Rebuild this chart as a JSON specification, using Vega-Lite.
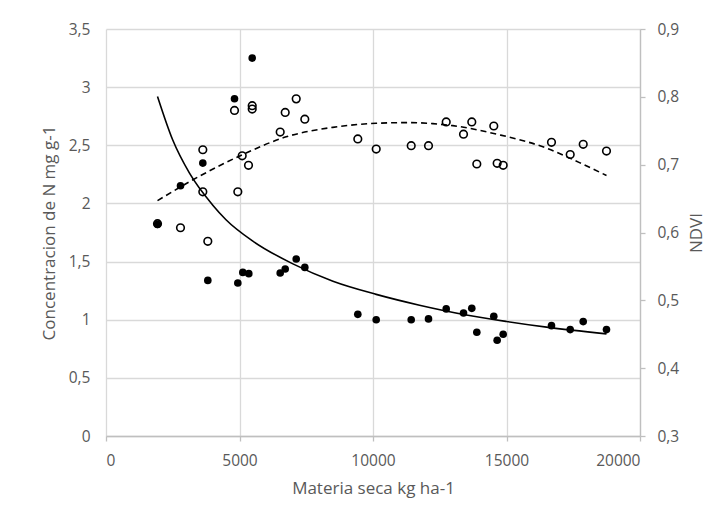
{
  "$schema": "https://vega.github.io/schema/vega-lite/v6.json",
  "width": 534,
  "height": 407,
  "autosize": {"type": "none"},
  "padding": {"left": 106, "top": 29, "right": 86, "bottom": 91},
  "background": "white",
  "config": {
    "view": {"stroke": null},
    "font": "Open Sans",
    "axis": {
      "labelFont": "Open Sans",
      "titleFont": "Open Sans",
      "labelColor": "#595959",
      "titleColor": "#595959",
      "labelFontSize": 15.5,
      "titleFontSize": 17,
      "titleFontWeight": "normal",
      "gridColor": "#d9d9d9",
      "gridWidth": 1.3,
      "domainColor": "#bfbfbf",
      "domainWidth": 1.3,
      "tickColor": "#bfbfbf",
      "tickWidth": 1.3
    }
  },
  "datasets": {
    "nData": [
      {"ms": 1929, "n": 1.82},
      {"ms": 2790, "n": 2.152},
      {"ms": 3626, "n": 2.347},
      {"ms": 3813, "n": 1.338},
      {"ms": 4813, "n": 2.9},
      {"ms": 4937, "n": 1.316},
      {"ms": 5124, "n": 1.407},
      {"ms": 5348, "n": 1.396},
      {"ms": 5476, "n": 3.25},
      {"ms": 6524, "n": 1.402},
      {"ms": 6712, "n": 1.436},
      {"ms": 7124, "n": 1.522},
      {"ms": 7446, "n": 1.45},
      {"ms": 9431, "n": 1.046},
      {"ms": 10120, "n": 1.0},
      {"ms": 11431, "n": 1.0},
      {"ms": 12079, "n": 1.007},
      {"ms": 12742, "n": 1.093},
      {"ms": 13390, "n": 1.058},
      {"ms": 13700, "n": 1.098},
      {"ms": 13888, "n": 0.892},
      {"ms": 14524, "n": 1.03},
      {"ms": 14650, "n": 0.823},
      {"ms": 14876, "n": 0.875},
      {"ms": 16685, "n": 0.949},
      {"ms": 17386, "n": 0.915},
      {"ms": 17873, "n": 0.984},
      {"ms": 18745, "n": 0.915}
    ],
    "nTrend": [
      {"ms": 1929, "n": 2.92},
      {"ms": 2500, "n": 2.545},
      {"ms": 3127, "n": 2.26},
      {"ms": 4000, "n": 1.985},
      {"ms": 4494, "n": 1.86},
      {"ms": 5500, "n": 1.676},
      {"ms": 7000, "n": 1.48},
      {"ms": 8500, "n": 1.331},
      {"ms": 10120, "n": 1.218},
      {"ms": 11742, "n": 1.125},
      {"ms": 13500, "n": 1.041},
      {"ms": 15000, "n": 0.985},
      {"ms": 16500, "n": 0.936},
      {"ms": 18745, "n": 0.878}
    ],
    "ndviData": [
      {"ms": 1929, "ndvi": 0.613},
      {"ms": 2790, "ndvi": 0.607},
      {"ms": 3626, "ndvi": 0.722},
      {"ms": 3626, "ndvi": 0.66},
      {"ms": 3813, "ndvi": 0.587},
      {"ms": 4813, "ndvi": 0.78},
      {"ms": 4937, "ndvi": 0.66},
      {"ms": 5101, "ndvi": 0.713},
      {"ms": 5337, "ndvi": 0.699},
      {"ms": 5476, "ndvi": 0.787},
      {"ms": 5476, "ndvi": 0.782},
      {"ms": 6524, "ndvi": 0.748},
      {"ms": 6712, "ndvi": 0.777},
      {"ms": 7124, "ndvi": 0.797},
      {"ms": 7446, "ndvi": 0.767},
      {"ms": 9431, "ndvi": 0.738},
      {"ms": 10120, "ndvi": 0.723},
      {"ms": 11431, "ndvi": 0.728},
      {"ms": 12079, "ndvi": 0.728},
      {"ms": 12742, "ndvi": 0.763},
      {"ms": 13390, "ndvi": 0.745},
      {"ms": 13700, "ndvi": 0.763},
      {"ms": 13888, "ndvi": 0.701},
      {"ms": 14524, "ndvi": 0.757},
      {"ms": 14650, "ndvi": 0.702},
      {"ms": 14876, "ndvi": 0.699},
      {"ms": 16685, "ndvi": 0.733},
      {"ms": 17386, "ndvi": 0.715},
      {"ms": 17873, "ndvi": 0.73},
      {"ms": 18745, "ndvi": 0.72}
    ],
    "ndviTrend": [
      {"ms": 1929, "ndvi": 0.647},
      {"ms": 3502, "ndvi": 0.683},
      {"ms": 5124, "ndvi": 0.715},
      {"ms": 6749, "ndvi": 0.741},
      {"ms": 8494, "ndvi": 0.755},
      {"ms": 10120, "ndvi": 0.761},
      {"ms": 11300, "ndvi": 0.762},
      {"ms": 12240, "ndvi": 0.7605},
      {"ms": 12989, "ndvi": 0.7575},
      {"ms": 14738, "ndvi": 0.744},
      {"ms": 16487, "ndvi": 0.7245},
      {"ms": 17734, "ndvi": 0.703},
      {"ms": 18745, "ndvi": 0.684}
    ]
  },
  "layer": [
    {
      "encoding": {
        "x": {
          "field": "ms", "type": "quantitative",
          "scale": {"domain": [0, 20000], "nice": false, "zero": false},
          "axis": {
            "title": "Materia seca kg ha-1",
            "values": [0, 5000, 10000, 15000, 20000],
            "format": "d",
            "grid": true,
            "domain": true,
            "ticks": true,
            "tickSize": 5,
            "labelPadding": 12,
            "titlePadding": 12
          }
        },
        "y": {
          "field": "n", "type": "quantitative",
          "scale": {"domain": [0, 3.5], "nice": false, "zero": false},
          "axis": {
            "orient": "left",
            "title": "Concentracion de N mg g-1",
            "values": [0, 0.5, 1, 1.5, 2, 2.5, 3, 3.5],
            "labelExpr": "replace(toString(datum.value), '.', ',')",
            "grid": true,
            "domain": false,
            "ticks": false,
            "labelPadding": 16,
            "titlePadding": 10
          }
        }
      },
      "layer": [
        {
          "data": {"name": "nData"},
          "mark": {"type": "point", "shape": "circle", "filled": true, "color": "black", "size": 58, "opacity": 1}
        },
        {
          "data": {"name": "nTrend"},
          "mark": {"type": "line", "color": "black", "strokeWidth": 1.6, "interpolate": "monotone"}
        }
      ]
    },
    {
      "encoding": {
        "x": {
          "field": "ms", "type": "quantitative",
          "scale": {"domain": [0, 20000], "nice": false, "zero": false},
          "axis": {
            "title": "Materia seca kg ha-1",
            "values": [0, 5000, 10000, 15000, 20000],
            "format": "d",
            "grid": true,
            "domain": true,
            "ticks": true,
            "tickSize": 5,
            "labelPadding": 12,
            "titlePadding": 12
          }
        },
        "y": {
          "field": "ndvi", "type": "quantitative",
          "scale": {"domain": [0.3, 0.9], "nice": false, "zero": false},
          "axis": {
            "orient": "right",
            "title": "NDVI",
            "titleAngle": 270,
            "titleBaseline": "top",
            "values": [0.3, 0.4, 0.5, 0.6, 0.7, 0.8, 0.9],
            "labelExpr": "replace(format(datum.value, '.1f'), '.', ',')",
            "grid": false,
            "domain": true,
            "ticks": true,
            "tickSize": 5,
            "labelPadding": 12,
            "titlePadding": 10
          }
        }
      },
      "layer": [
        {
          "data": {"name": "ndviData"},
          "mark": {"type": "point", "shape": "circle", "filled": false, "stroke": "black", "strokeWidth": 1.6, "size": 58, "opacity": 1}
        },
        {
          "data": {"name": "ndviTrend"},
          "mark": {"type": "line", "color": "black", "strokeWidth": 1.6, "strokeDash": [6, 4], "interpolate": "monotone"}
        }
      ]
    }
  ],
  "resolve": {"scale": {"y": "independent"}}
}
